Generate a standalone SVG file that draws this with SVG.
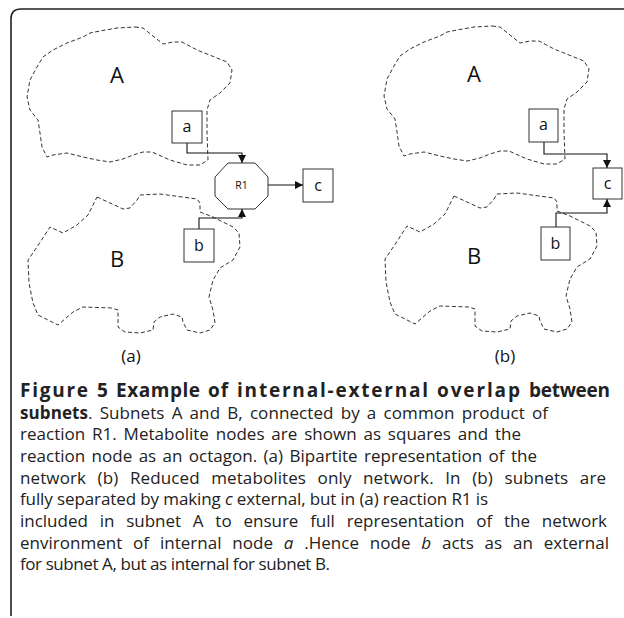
<svg xmlns="http://www.w3.org/2000/svg" xmlns:xlink="http://www.w3.org/1999/xlink" width="624" height="618" viewBox="0 0 624 618">
  <style>
    .frame { fill: none; stroke: #222; stroke-width: 1.6; }
    .blob { fill: none; stroke: #333; stroke-width: 1; stroke-dasharray: 4 2.5; stroke-linejoin: round; }
    .box { fill: #fff; stroke: #333; stroke-width: 1; }
    .edge { fill: none; stroke: #111; stroke-width: 1.1; }
    .lbl { font-family: "Open Sans", "DejaVu Sans", sans-serif; fill: #111; text-anchor: middle; }
    .big { font-size: 22px; }
    .node { font-size: 16px; }
    .small { font-size: 10.5px; }
    .panel { font-size: 17px; }
    .cap { font-family: "Open Sans", "Liberation Sans", sans-serif; font-size: 17px; fill: #222; }
    .capb { font-weight: bold; }
    .title { font-family: "Open Sans", "Liberation Sans", sans-serif; font-size: 19px; font-weight: bold; fill: #222; }
  </style>
  <defs>
    <marker id="arr" viewBox="0 0 10 10" refX="10" refY="5" markerWidth="8" markerHeight="8" markerUnits="userSpaceOnUse" orient="auto">
      <path d="M0,0 L10,5 L0,10 Z" fill="#111"/>
    </marker>
    <path id="shapeA" d="M135,27 L143,28 L158,40 L163,44 L173,42 L182,42 L197,50 L227,62 L232,70 L230,83 L220,93 L210,100 L207,110 L207,133 L208,160 L200,165 L187,165 L170,160 L152,152 L143,152 L133,155 L123,159 L110,162 L97,160 L83,157 L67,153 L53,155 L47,157 L42,147 L40,133 L38,120 L30,110 L27,97 L30,80 L37,67 L43,57 L53,50 L67,43 L83,37 L90,33 L100,31 L117,28 Z"/>
    <path id="shapeB" d="M97,197 L110,203 L123,209 L130,208 L137,200 L140,195 L160,194 L197,199 L200,203 L200,212 L213,217 L233,227 L239,233 L240,247 L233,260 L220,268 L213,280 L209,297 L213,310 L215,323 L210,330 L200,333 L187,330 L183,322 L182,317 L173,314 L160,317 L154,322 L153,330 L140,333 L125,332 L118,327 L118,310 L112,308 L83,307 L73,312 L58,325 L38,315 L33,303 L29,283 L28,260 L37,247 L50,227 L63,233 L77,225 L88,215 Z"/>
  </defs>

  <rect width="624" height="618" fill="#fff"/>
  <path class="frame" d="M11,616 L11,19 Q11,9 21,9 L624,9"/>

  <!-- panel (a): bipartite representation -->
  <g id="subnetA-a">
    <use xlink:href="#shapeA" class="blob"/>
    <text class="lbl big" x="117" y="83">A</text>
  </g>
  <g id="subnetB-a">
    <use xlink:href="#shapeB" class="blob"/>
    <text class="lbl big" x="117" y="267">B</text>
  </g>

  <g id="connectors-a">
    <path class="edge" d="M187,143 V153 H242 V163" marker-end="url(#arr)"/>
    <path class="edge" d="M199,229 V218 H242 V209" marker-end="url(#arr)"/>
    <path class="edge" d="M268,185 H303" marker-end="url(#arr)"/>
  </g>

  <g id="node-a-a">
    <rect class="box" x="172" y="111" width="30" height="32"/>
    <text class="lbl node" x="187" y="132">a</text>
  </g>
  <g id="node-b-a">
    <rect class="box" x="184" y="229" width="30" height="33"/>
    <text class="lbl node" x="199" y="251">b</text>
  </g>
  <g id="node-c-a">
    <rect class="box" x="303" y="169" width="30" height="33"/>
    <text class="lbl node" x="318" y="191">c</text>
  </g>
  <g id="node-R1">
    <polygon class="box" points="228,163 255,163 268,177 268,196 255,209 228,209 215,196 215,177"/>
    <text class="lbl small" x="241.5" y="189">R1</text>
  </g>
  <text class="lbl panel" x="131" y="362">(a)</text>

  <!-- panel (b): metabolites only -->
  <g id="subnetA-b">
    <use xlink:href="#shapeA" class="blob" transform="translate(357,-1)"/>
    <text class="lbl big" x="474" y="82">A</text>
  </g>
  <g id="subnetB-b">
    <use xlink:href="#shapeB" class="blob" transform="translate(357,-1)"/>
    <text class="lbl big" x="474" y="264">B</text>
  </g>

  <g id="connectors-b">
    <path class="edge" d="M544,142 V154 H607 V168" marker-end="url(#arr)"/>
    <path class="edge" d="M556,227 V213 H607 V199" marker-end="url(#arr)"/>
  </g>

  <g id="node-a-b">
    <rect class="box" x="529" y="109" width="29" height="33"/>
    <text class="lbl node" x="543.5" y="130">a</text>
  </g>
  <g id="node-b-b">
    <rect class="box" x="541" y="227" width="29" height="33"/>
    <text class="lbl node" x="555.5" y="249">b</text>
  </g>
  <g id="node-c-b">
    <rect class="box" x="593" y="168" width="29" height="31"/>
    <text class="lbl node" x="607.5" y="189">c</text>
  </g>
  <text class="lbl panel" x="505" y="362">(b)</text>

  <!-- caption: justified bold title line, then body -->
  <g id="caption">
    <g class="title">
      <text x="20" y="397" textLength="68" lengthAdjust="spacing">Figure</text>
      <text x="97" y="397">5</text>
      <text x="116" y="397" textLength="84" lengthAdjust="spacing">Example</text>
      <text x="208" y="397" textLength="20" lengthAdjust="spacing">of</text>
      <text x="237" y="397" textLength="191" lengthAdjust="spacing">internal-external</text>
      <text x="437" y="397" textLength="83" lengthAdjust="spacing">overlap</text>
      <text x="529" y="397" textLength="81" lengthAdjust="spacing">between</text>
    </g>
    <g class="cap">
      <text x="20" y="419" word-spacing="2.6" textLength="528" lengthAdjust="spacing"><tspan class="capb">subnets</tspan>. Subnets A and B, connected by a common product of</text>
      <text x="20" y="440" word-spacing="2.4" textLength="501" lengthAdjust="spacing">reaction R1. Metabolite nodes are shown as squares and the</text>
      <text x="20" y="462" word-spacing="1.9" textLength="517" lengthAdjust="spacing">reaction node as an octagon. (a) Bipartite representation of the</text>
      <text x="20" y="484" word-spacing="7" textLength="586" lengthAdjust="spacing">network (b) Reduced metabolites only network. In (b) subnets are</text>
      <text x="20" y="505" textLength="468" lengthAdjust="spacing">fully separated by making <tspan font-style="italic">c</tspan> external, but in (a) reaction R1 is</text>
      <text x="20" y="527" word-spacing="7.4" textLength="587" lengthAdjust="spacing">included in subnet A to ensure full representation of the network</text>
      <text x="20" y="549" word-spacing="6.4" textLength="589" lengthAdjust="spacing">environment of internal node <tspan font-style="italic">a</tspan> .Hence node <tspan font-style="italic">b</tspan> acts as an external</text>
      <text x="20" y="570" textLength="310" lengthAdjust="spacing">for subnet A, but as internal for subnet B.</text>
    </g>
  </g>
</svg>
